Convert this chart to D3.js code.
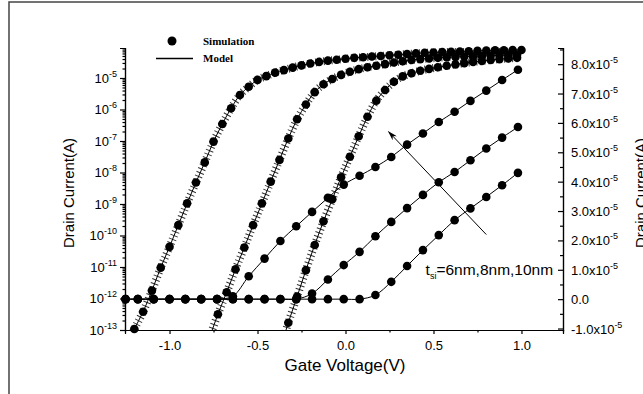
<!DOCTYPE html>
<html>
<head>
<meta charset="utf-8">
<script src="https://cdn.jsdelivr.net/npm/d3@7"></script>
<style>
    body { margin: 0; background: #fff; }
    svg { display: block; font-family: "Liberation Sans", Arial, sans-serif; }
</style>
</head>
<body>
<div id="container"></div>
<script>
// gate voltage grid for the linear (right axis) curves
let vLin = [-1.25, -1.18, -1.09, -1.00, -0.91, -0.82, -0.73, -0.64, -0.55, -0.46, -0.37, -0.28, -0.19,
            -0.10, -0.01, 0.08, 0.17, 0.26, 0.35, 0.44, 0.53, 0.62, 0.71, 0.80, 0.89, 0.98];
// drain current in units of 1e-5 A
let lin10 = [0, 0, 0, 0, 0, 0, 0, 0.10, 0.78, 1.38, 1.98, 2.48, 2.97, 3.45, 3.90, 4.20, 4.50, 4.84, 5.26,
             5.64, 6.03, 6.38, 6.75, 7.10, 7.46, 7.81];
let lin8 = [0, 0, 0, 0, 0, 0, 0, 0, 0, 0, 0, 0, 0.19, 0.67, 1.16, 1.61, 2.14, 2.63, 3.10, 3.55, 3.98, 4.33,
            4.73, 5.13, 5.50, 5.86];
let lin6 = [0, 0, 0, 0, 0, 0, 0, 0, 0, 0, 0, 0, 0, 0, 0, 0, 0.14, 0.59, 1.13, 1.67, 2.18, 2.69, 3.09, 3.48,
            3.88, 4.30];

// log-scale (left axis) curves: gate voltage and log10 of drain current
let vLog10 = [-1.20, -1.15, -1.10, -1.05, -1.00, -0.95, -0.90, -0.85, -0.80, -0.75, -0.70, -0.65, -0.60, -0.55,
              -0.50, -0.45, -0.40, -0.35, -0.30, -0.25, -0.20, -0.15, -0.10, -0.05, 0.00, 0.05, 0.10, 0.15,
              0.20, 0.25, 0.30, 0.35, 0.40, 0.45, 0.50, 0.55, 0.60, 0.65, 0.70, 0.75, 0.80, 0.85, 0.90, 0.95, 1.00];
let log10nm = [-12.97, -12.42, -11.75, -11.02, -10.36, -9.67, -8.98, -8.32, -7.68, -7.02, -6.46, -5.96, -5.54,
               -5.28, -5.06, -4.94, -4.83, -4.75, -4.67, -4.60, -4.54, -4.49, -4.45, -4.42, -4.39, -4.36, -4.34,
               -4.32, -4.30, -4.28, -4.26, -4.24, -4.22, -4.20, -4.19, -4.18, -4.17, -4.16, -4.15, -4.14, -4.13,
               -4.12, -4.12, -4.11, -4.11];
let vLog8 = [-0.725, -0.675, -0.625, -0.575, -0.525, -0.475, -0.425, -0.375, -0.325, -0.275, -0.225, -0.175,
             -0.125, -0.075, -0.025, 0.025, 0.075, 0.125, 0.175, 0.225, 0.275, 0.325, 0.375, 0.425, 0.475,
             0.525, 0.575, 0.625, 0.675, 0.725, 0.775, 0.825, 0.875, 0.925, 0.975];
let log8nm = [-12.50, -11.80, -11.07, -10.38, -9.67, -8.98, -8.29, -7.60, -6.92, -6.31, -5.84, -5.45, -5.20,
              -5.03, -4.90, -4.80, -4.72, -4.66, -4.61, -4.56, -4.51, -4.47, -4.43, -4.40, -4.38, -4.36, -4.34,
              -4.33, -4.32, -4.31, -4.30, -4.29, -4.28, -4.27, -4.26];
let vLog6 = [-0.325, -0.275, -0.225, -0.175, -0.125, -0.075, -0.025, 0.025, 0.075, 0.125, 0.175, 0.225, 0.275,
             0.325, 0.375, 0.425, 0.475, 0.525, 0.575, 0.625, 0.675, 0.725, 0.775, 0.825, 0.875, 0.925, 0.975];
let log6nm = [-12.77, -11.94, -11.10, -10.30, -9.55, -8.85, -8.15, -7.50, -6.85, -6.23, -5.72, -5.38, -5.12,
              -4.95, -4.85, -4.77, -4.71, -4.66, -4.61, -4.57, -4.53, -4.49, -4.46, -4.43, -4.40, -4.38, -4.36];
// where each model line leaves the bottom of the plot
let modelStart = [[-1.235, -13.4], [-0.77, -13.2], [-0.355, -13.3]];

let xTicks = [-1.0, -0.5, 0.0, 0.5, 1.0];
let xMinor = [-0.75, -0.25, 0.25, 0.75];
let leftTicks = [-13, -12, -11, -10, -9, -8, -7, -6, -5];
let rightTicks = [-1, 0, 1, 2, 3, 4, 5, 6, 7, 8];
let rightMinor = [-0.5, 0.5, 1.5, 2.5, 3.5, 4.5, 5.5, 6.5, 7.5, 8.5];
let arrowFrom = [0.80, 2.2], arrowTo = [0.245, 5.7];

let plotLeft = 125, plotRight = 563, plotTop = 48, plotBottom = 330;

let svg = d3.select("#container").append("svg")
    .attr("width", 643)
    .attr("height", 394);

svg.append("rect")
    .attr("x", 9).attr("y", 2)
    .attr("width", 700).attr("height", 500)
    .attr("fill", "none")
    .attr("stroke", "#444")
    .attr("stroke-width", 1.5);

let x = d3.scaleLinear().domain([-1.253, 1.236]).range([plotLeft, plotRight]);
let yLog = d3.scaleLog().domain([1e-13, Math.pow(10, -4.048)]).range([plotBottom, plotTop]);
let yLin = d3.scaleLinear().domain([-1.05, 8.55]).range([plotBottom, plotTop]);

let defs = svg.append("defs");
defs.append("clipPath").attr("id", "plot")
    .append("rect")
    .attr("x", plotLeft).attr("y", plotTop)
    .attr("width", plotRight - plotLeft).attr("height", plotBottom - plotTop);

defs.append("marker")
    .attr("id", "head")
    .attr("viewBox", "0 0 10 6")
    .attr("refX", 9).attr("refY", 3)
    .attr("markerWidth", 10).attr("markerHeight", 6)
    .attr("markerUnits", "userSpaceOnUse")
    .attr("orient", "auto")
    .append("path")
    .attr("d", "M0,0 L10,3 L0,6 L3,3 Z")
    .attr("fill", "#000");

// axes
function styleAxis(g) {
    g.selectAll("path, line").attr("stroke", "#000").attr("stroke-width", 1.2);
    g.selectAll("text").remove();
}

svg.append("g")
    .attr("transform", "translate(0," + plotBottom + ")")
    .call(d3.axisBottom(x).tickValues(xTicks).tickSize(4).tickPadding(7)
        .tickFormat(function(d) { return d.toFixed(1); }))
    .call(function(g) {
        g.selectAll("path, line").attr("stroke", "#000").attr("stroke-width", 1.2);
        g.selectAll("text").attr("font-size", 13).attr("font-family", "Liberation Sans, Arial, sans-serif");
    });

svg.append("g")
    .attr("transform", "translate(0," + plotBottom + ")")
    .call(d3.axisBottom(x).tickValues(xMinor).tickSize(2.5).tickFormat(""))
    .call(styleAxis);

let logMinor = [];
for (let e = -13; e <= -5; e++) {
    for (let m = 2; m <= 9; m++) {
        let v = m * Math.pow(10, e);
        if (v <= yLog.domain()[1]) logMinor.push(v);
    }
}

svg.append("g")
    .attr("transform", "translate(" + plotLeft + ",0)")
    .call(d3.axisLeft(yLog).tickValues(logMinor).tickSize(2.5).tickFormat(""))
    .call(styleAxis);

svg.append("g")
    .attr("transform", "translate(" + plotLeft + ",0)")
    .call(d3.axisLeft(yLog).tickValues(leftTicks.map(function(e) { return Math.pow(10, e); })).tickSize(5).tickFormat(""))
    .call(styleAxis);

svg.append("g")
    .attr("transform", "translate(" + plotRight + ",0)")
    .call(d3.axisRight(yLin).tickValues(rightMinor).tickSize(-3).tickFormat(""))
    .call(styleAxis);

svg.append("g")
    .attr("transform", "translate(" + plotRight + ",0)")
    .call(d3.axisRight(yLin).tickValues(rightTicks).tickSize(-5).tickFormat(""))
    .call(styleAxis);

// tick labels with superscripts
let leftLabels = svg.append("g").attr("font-size", 13).attr("fill", "#000");
leftLabels.selectAll("text")
    .data(leftTicks)
    .enter().append("text")
    .attr("x", 117)
    .attr("y", function(d) { return yLog(Math.pow(10, d)) + 5; })
    .attr("text-anchor", "end")
    .each(function(d) {
        let t = d3.select(this);
        t.append("tspan").text("10");
        t.append("tspan").attr("font-size", 9).attr("dy", -6).text(String(d));
    });

let rightLabels = svg.append("g").attr("font-size", 13).attr("fill", "#000");
rightLabels.selectAll("text")
    .data(rightTicks)
    .enter().append("text")
    .attr("x", 571)
    .attr("y", function(d) { return yLin(d) + 5; })
    .each(function(d) {
        let t = d3.select(this);
        if (d === 0) { t.text("0.0"); return; }
        t.append("tspan").text(d.toFixed(1) + "x10");
        t.append("tspan").attr("font-size", 9).attr("dy", -6).text("-5");
    });

// axis titles
svg.append("text")
    .attr("x", 345).attr("y", 371)
    .attr("text-anchor", "middle")
    .attr("font-size", 17)
    .text("Gate Voltage(V)");

svg.append("text")
    .attr("transform", "translate(74,193) rotate(-90)")
    .attr("text-anchor", "middle")
    .attr("font-size", 15)
    .text("Drain Current(A)");

// the right title runs off the edge of the figure, as in the source image
svg.append("text")
    .attr("transform", "translate(646,193) rotate(-90)")
    .attr("text-anchor", "middle")
    .attr("font-size", 15)
    .text("Drain Current(A)");

// curves
let logSets = [
    {v: vLog10, l: log10nm, start: modelStart[0]},
    {v: vLog8, l: log8nm, start: modelStart[1]},
    {v: vLog6, l: log6nm, start: modelStart[2]}
];
let linSets = [lin10, lin8, lin6];

let lineLog = d3.line()
    .x(function(d) { return x(d[0]); })
    .y(function(d) { return yLog(Math.pow(10, d[1])); })
    .curve(d3.curveCatmullRom);

let lineLin = d3.line()
    .x(function(d) { return x(d[0]); })
    .y(function(d) { return yLin(d[1]); })
    .curve(d3.curveCatmullRom);

let curves = svg.append("g").attr("clip-path", "url(#plot)");

logSets.forEach(function(s) {
    let pts = [s.start].concat(d3.zip(s.v, s.l));
    curves.append("path")
        .attr("d", lineLog(pts))
        .attr("fill", "none")
        .attr("stroke", "#333")
        .attr("stroke-width", 8)
        .attr("stroke-dasharray", "1 3");
    curves.append("path")
        .attr("d", lineLog(pts))
        .attr("fill", "none")
        .attr("stroke", "#000")
        .attr("stroke-width", 1);
});

linSets.forEach(function(s) {
    curves.append("path")
        .attr("d", lineLin(d3.zip(vLin, s)))
        .attr("fill", "none")
        .attr("stroke", "#000")
        .attr("stroke-width", 1);
});

let dots = svg.append("g").attr("fill", "#000");
logSets.forEach(function(s) {
    dots.selectAll(null)
        .data(d3.zip(s.v, s.l))
        .enter().append("circle")
        .attr("cx", function(d) { return x(d[0]); })
        .attr("cy", function(d) { return yLog(Math.pow(10, d[1])); })
        .attr("r", 4.3);
});
linSets.forEach(function(s) {
    dots.selectAll(null)
        .data(d3.zip(vLin, s))
        .enter().append("circle")
        .attr("cx", function(d) { return x(d[0]); })
        .attr("cy", function(d) { return yLin(d[1]); })
        .attr("r", 4.3);
});

// arrow and thickness label
svg.append("line")
    .attr("x1", x(arrowFrom[0])).attr("y1", yLin(arrowFrom[1]))
    .attr("x2", x(arrowTo[0])).attr("y2", yLin(arrowTo[1]))
    .attr("stroke", "#000")
    .attr("stroke-width", 1)
    .attr("marker-end", "url(#head)");

let tsi = svg.append("text")
    .attr("x", x(1.18))
    .attr("y", yLin(1) + 5)
    .attr("text-anchor", "end")
    .attr("font-size", 15.5);
tsi.append("tspan").text("t");
tsi.append("tspan").attr("font-size", 9).attr("dy", 4).text("si");
tsi.append("tspan").attr("dy", -4).text("=6nm,8nm,10nm");

// legend
let legend = svg.append("g")
    .attr("font-family", "Liberation Serif, Times New Roman, serif")
    .attr("font-weight", "bold")
    .attr("font-size", 11);
legend.append("circle").attr("cx", 172).attr("cy", 41).attr("r", 4.5);
legend.append("text").attr("x", 203).attr("y", 45).text("Simulation");
legend.append("line")
    .attr("x1", 156).attr("x2", 193)
    .attr("y1", 58.5).attr("y2", 58.5)
    .attr("stroke", "#000").attr("stroke-width", 1.5);
legend.append("text").attr("x", 203).attr("y", 62).text("Model");
</script>
</body>
</html>
